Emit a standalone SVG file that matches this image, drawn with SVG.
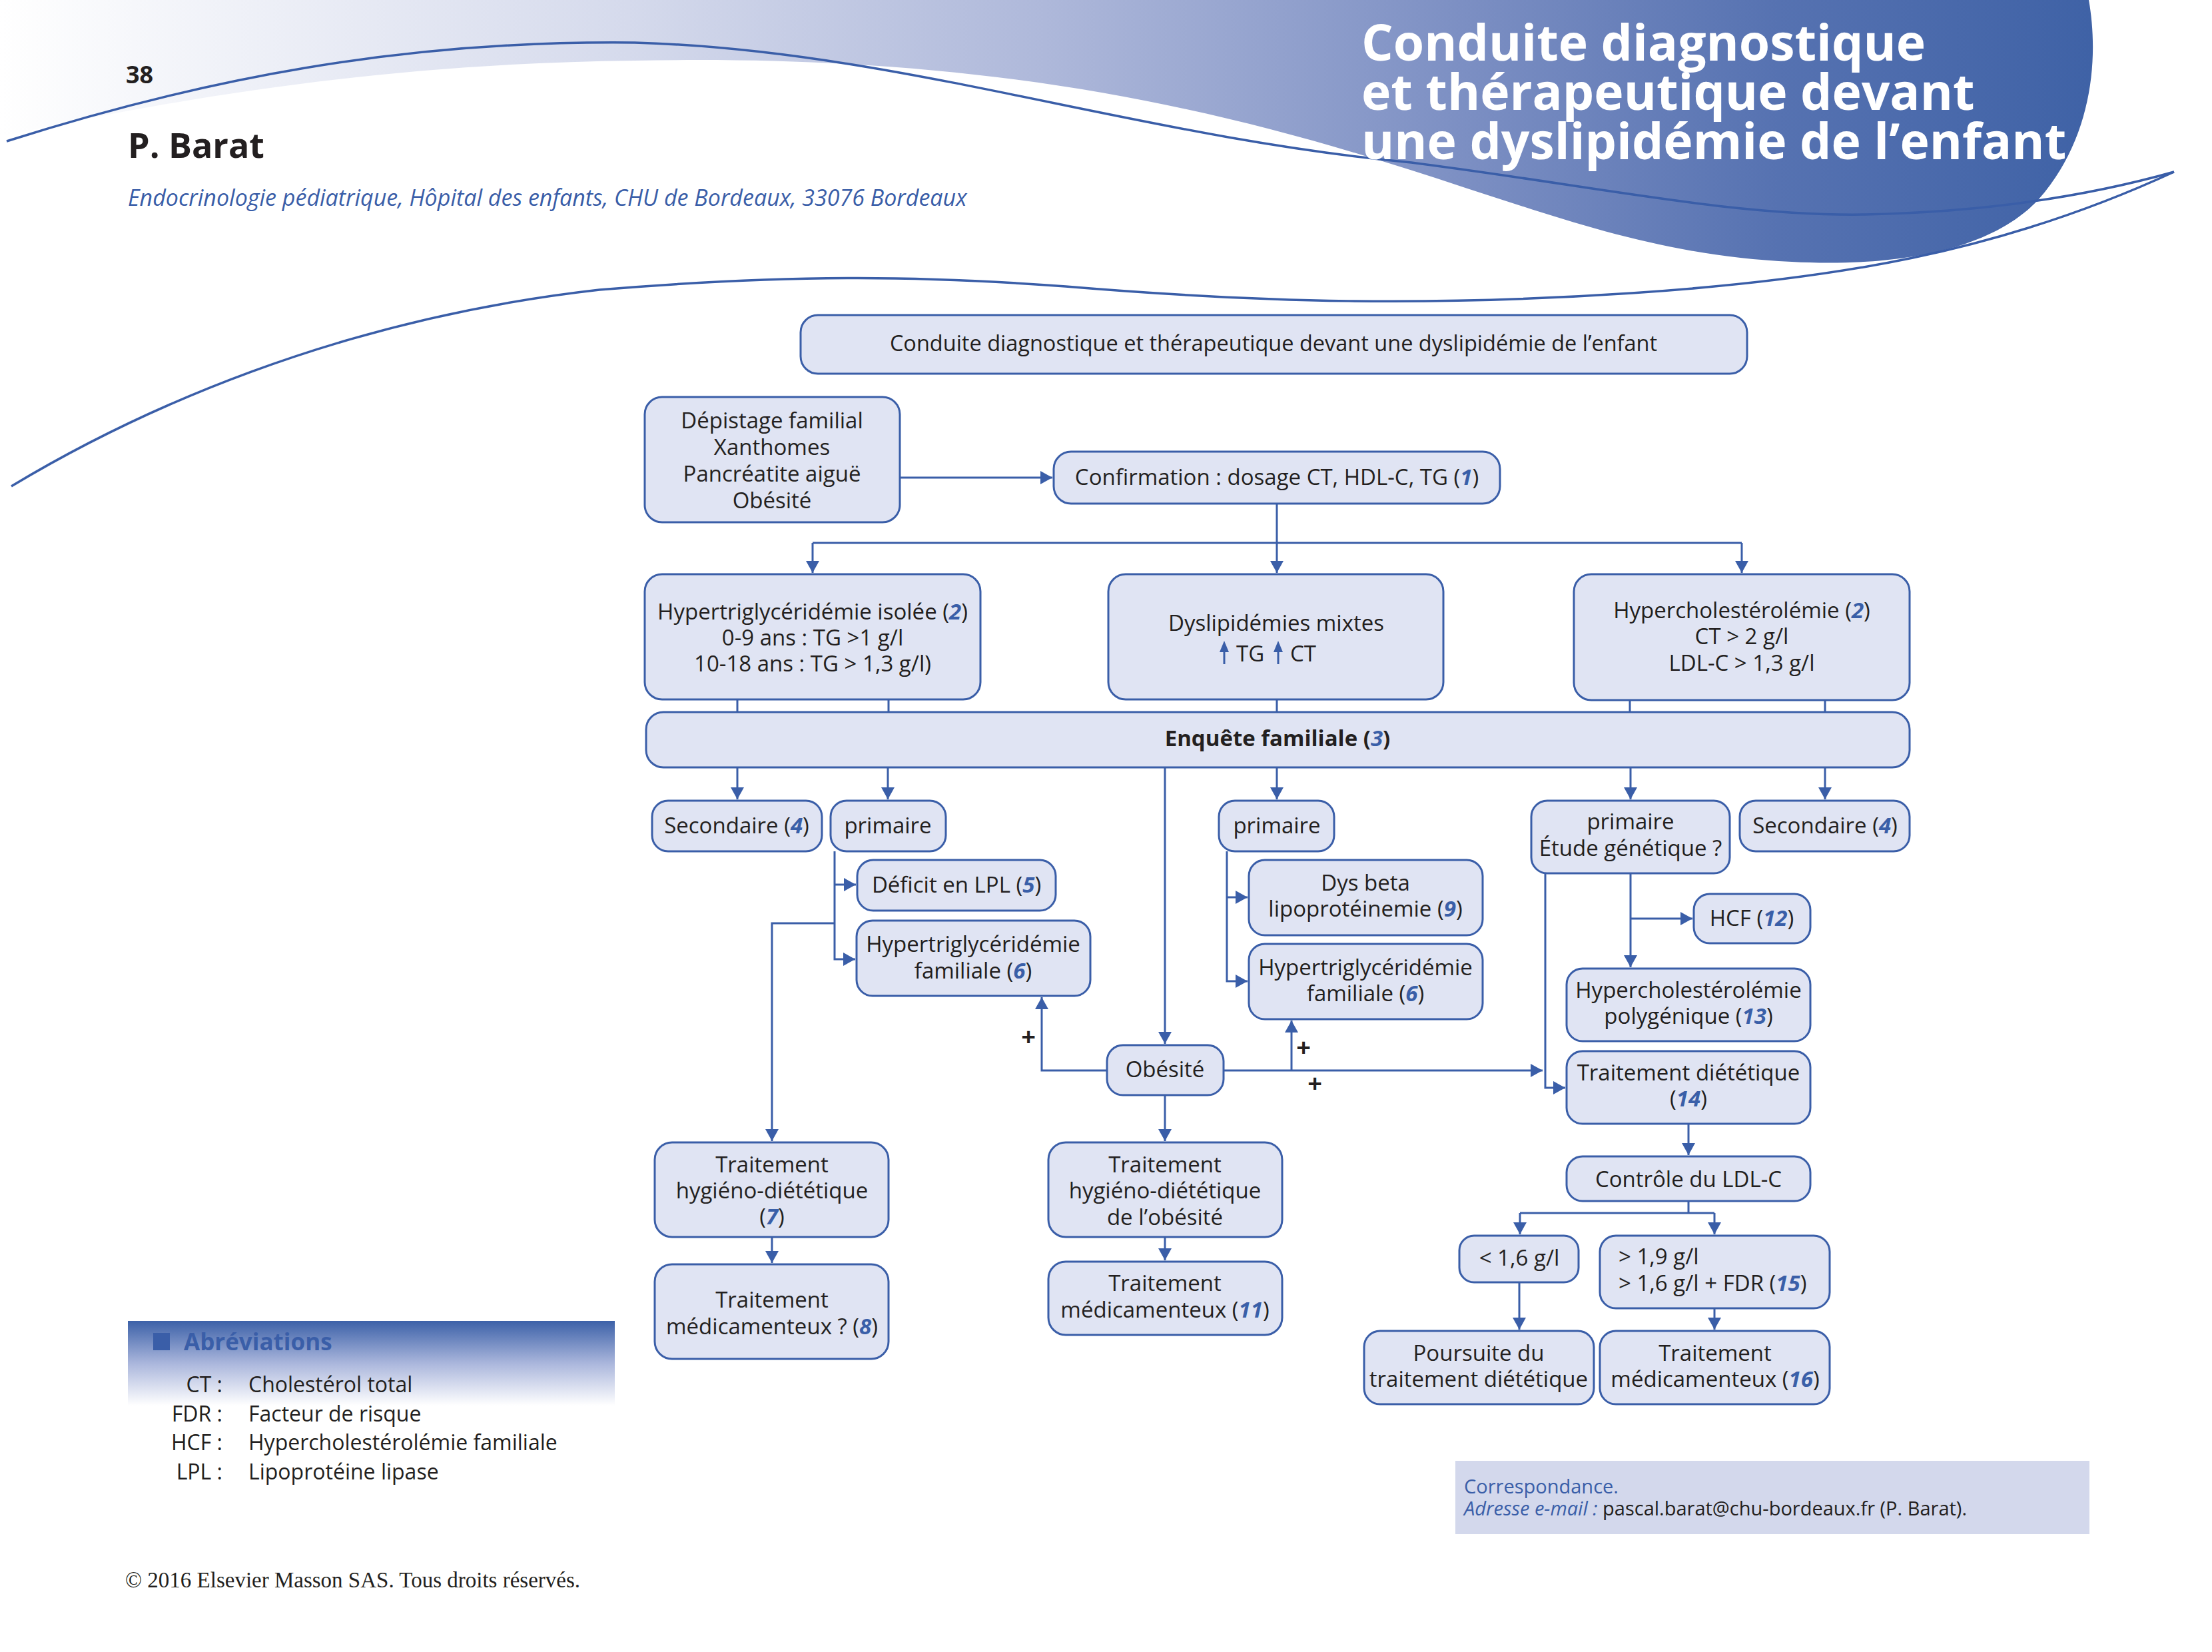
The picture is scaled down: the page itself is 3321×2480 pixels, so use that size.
<svg xmlns="http://www.w3.org/2000/svg" width="3321" height="2480" viewBox="0 0 3321 2480">
<defs>
<linearGradient id="hdr" gradientUnits="userSpaceOnUse" x1="0" y1="0" x2="3140" y2="0">
<stop offset="0" stop-color="#ffffff"/>
<stop offset="0.3" stop-color="#d5daec"/>
<stop offset="0.5" stop-color="#aeb8da"/>
<stop offset="0.7" stop-color="#7c8fc3"/>
<stop offset="0.85" stop-color="#5672b1"/>
<stop offset="1" stop-color="#3f62a6"/>
</linearGradient>
<linearGradient id="abr" x1="0" y1="0" x2="0" y2="1">
<stop offset="0" stop-color="#3c61a8"/>
<stop offset="0.5" stop-color="#aab6dc"/>
<stop offset="1" stop-color="#ffffff"/>
</linearGradient>
<marker id="ah" markerUnits="userSpaceOnUse" markerWidth="20" markerHeight="20" refX="18" refY="10" orient="auto">
<path d="M0,0 L18,10 L0,20 Z" fill="#3a5ea8"/>
</marker>
<style>
.box{fill:#e0e4f3;stroke:#3a5ea8;stroke-width:3}
.t{font-family:'Open Sans','Noto Sans','DejaVu Sans',sans-serif;font-size:33px;fill:#231f20;text-anchor:middle}
.n{fill:#3a5fa8;font-weight:bold;font-style:italic}
.ln{fill:none;stroke:#3a5ea8;stroke-width:3}
.ar{fill:none;stroke:#3a5ea8;stroke-width:3;marker-end:url(#ah)}
.plus{font-family:'Open Sans','DejaVu Sans',sans-serif;font-size:38px;font-weight:bold;fill:#231f20;text-anchor:middle}
.sw{fill:none;stroke:#3a5ea8;stroke-width:3.5}
.ttl{font-family:'Open Sans','DejaVu Sans',sans-serif;font-weight:bold;font-size:75px;fill:#ffffff}
</style>
</defs>

<g id="header">
<path d="M0,0 H3136 C3152,90 3140,210 3060,300 C2980,385 2820,400 2690,393 C2500,385 2350,330 2200,282 C1850,165 1500,80 953,91 C600,95 300,140 0,205 Z" fill="url(#hdr)"/>
<path class="sw" d="M10,212 C300,120 600,60 953,64 C1350,75 1700,205 2119,244 C2400,280 2600,325 2800,322 C3000,318 3150,290 3264,258"/>
<path class="sw" d="M17,730 C200,620 500,480 900,435 C1200,410 1400,415 1600,430 C1900,455 2150,460 2450,440 C2750,420 3000,380 3264,258"/>
<text class="ttl" x="2044" y="91">Conduite diagnostique</text>
<text class="ttl" x="2044" y="165">et thérapeutique devant</text>
<text class="ttl" x="2044" y="239">une dyslipidémie de l’enfant</text>
<text x="189" y="125" font-family="'Open Sans','DejaVu Sans',sans-serif" font-weight="bold" font-size="36" fill="#231f20">38</text>
<text x="192" y="237" font-family="'Open Sans','DejaVu Sans',sans-serif" font-weight="bold" font-size="52" fill="#231f20">P. Barat</text>
<text x="192" y="309" font-family="'Open Sans','DejaVu Sans',sans-serif" font-style="italic" font-size="34" fill="#3a5ea8">Endocrinologie pédiatrique, Hôpital des enfants, CHU de Bordeaux, 33076 Bordeaux</text>
</g>

<g id="connectors">
<path class="ar" d="M1351,717 H1580"/>
<path class="ar" d="M1917,756 V860"/>
<path class="ln" d="M1220,815 H2615"/>
<path class="ar" d="M1220,815 V860"/>
<path class="ar" d="M2615,815 V860"/>
<path class="ln" d="M1107,1050 V1069 M1334,1050 V1069 M1917,1050 V1069 M2447,1051 V1069 M2740,1051 V1069"/>
<path class="ar" d="M1107,1152 V1200"/>
<path class="ar" d="M1333,1152 V1200"/>
<path class="ar" d="M1917,1152 V1200"/>
<path class="ar" d="M2448,1152 V1200"/>
<path class="ar" d="M2740,1152 V1200"/>
<path class="ar" d="M1749,1152 V1567"/>
<path class="ar" d="M1253,1278 V1440 H1284"/>
<path class="ar" d="M1253,1328 H1285"/>
<path class="ar" d="M1253,1386 H1159 V1713"/>
<path class="ar" d="M1842,1278 V1473 H1873"/>
<path class="ar" d="M1842,1347 H1873"/>
<path class="ar" d="M1662,1607 H1564 V1497"/>
<path class="ar" d="M1837,1607 H2316"/>
<path class="ar" d="M1939,1607 V1532"/>
<path class="ar" d="M1749,1644 V1713"/>
<path class="ar" d="M1159,1857 V1896"/>
<path class="ar" d="M1749,1857 V1892"/>
<path class="ar" d="M2448,1311 V1452"/>
<path class="ar" d="M2448,1379 H2541"/>
<path class="ar" d="M2320,1311 V1633 H2350"/>
<path class="ar" d="M2535,1687 V1734"/>
<path class="ln" d="M2535,1803 V1821 M2282,1821 H2574"/>
<path class="ar" d="M2282,1821 V1853"/>
<path class="ar" d="M2574,1821 V1853"/>
<path class="ar" d="M2281,1925 V1996"/>
<path class="ar" d="M2574,1964 V1996"/>
<text class="plus" x="1544" y="1570">+</text>
<text class="plus" x="1957" y="1586">+</text>
<text class="plus" x="1974" y="1640">+</text>
</g>

<g id="n-titre">
<rect class="box" x="1202" y="473" width="1421" height="88" rx="26"/>
<text class="t" x="1912" y="527" style="font-size:32.5px">Conduite diagnostique et thérapeutique devant une dyslipidémie de l’enfant</text>
</g>
<g id="n-depistage">
<rect class="box" x="968" y="596" width="383" height="188" rx="26"/>
<text class="t" x="1159" y="643">Dépistage familial</text>
<text class="t" x="1159" y="683">Xanthomes</text>
<text class="t" x="1159" y="723">Pancréatite aiguë</text>
<text class="t" x="1159" y="763">Obésité</text>
</g>
<g id="n-confirmation">
<rect class="box" x="1582" y="678" width="670" height="78" rx="26"/>
<text class="t" x="1917" y="728">Confirmation : dosage CT, HDL-C, TG (<tspan class="n">1</tspan>)</text>
</g>
<g id="n-htg-isolee">
<rect class="box" x="968" y="862" width="504" height="188" rx="26"/>
<text class="t" x="1220" y="930">Hypertriglycéridémie isolée (<tspan class="n">2</tspan>)</text>
<text class="t" x="1220" y="969">0-9 ans : TG &gt;1 g/l</text>
<text class="t" x="1220" y="1008">10-18 ans : TG &gt; 1,3 g/l)</text>
</g>
<g id="n-dyslip-mixtes">
<rect class="box" x="1664" y="862" width="503" height="188" rx="26"/>
<text class="t" x="1916" y="947">Dyslipidémies mixtes</text>
<path d="M1838,997 V976" stroke="#3a5ea8" stroke-width="3"/>
<path d="M1831,979 L1838,962 L1845,979 Z" fill="#3a5ea8"/>
<text class="t" x="1856" y="993" style="text-anchor:start">TG</text>
<path d="M1919,997 V976" stroke="#3a5ea8" stroke-width="3"/>
<path d="M1912,979 L1919,962 L1926,979 Z" fill="#3a5ea8"/>
<text class="t" x="1937" y="993" style="text-anchor:start">CT</text>
</g>
<g id="n-hyperchol">
<rect class="box" x="2363" y="862" width="504" height="189" rx="26"/>
<text class="t" x="2615" y="928">Hypercholestérolémie (<tspan class="n">2</tspan>)</text>
<text class="t" x="2615" y="967">CT &gt; 2 g/l</text>
<text class="t" x="2615" y="1007">LDL-C &gt; 1,3 g/l</text>
</g>
<g id="n-enquete">
<rect class="box" x="970" y="1069" width="1897" height="83" rx="26"/>
<text class="t" x="1918" y="1120" font-weight="bold">Enquête familiale (<tspan class="n">3</tspan>)</text>
</g>
<g id="n-secondaire-g">
<rect class="box" x="979" y="1202" width="255" height="76" rx="24"/>
<text class="t" x="1106" y="1251">Secondaire (<tspan class="n">4</tspan>)</text>
</g>
<g id="n-primaire-g">
<rect class="box" x="1247" y="1202" width="173" height="76" rx="24"/>
<text class="t" x="1333" y="1251">primaire</text>
</g>
<g id="n-primaire-m">
<rect class="box" x="1830" y="1202" width="173" height="76" rx="24"/>
<text class="t" x="1917" y="1251">primaire</text>
</g>
<g id="n-primaire-d">
<rect class="box" x="2299" y="1202" width="298" height="109" rx="24"/>
<text class="t" x="2448" y="1245">primaire</text>
<text class="t" x="2448" y="1285">Étude génétique ?</text>
</g>
<g id="n-secondaire-d">
<rect class="box" x="2612" y="1202" width="255" height="76" rx="24"/>
<text class="t" x="2740" y="1251">Secondaire (<tspan class="n">4</tspan>)</text>
</g>
<g id="n-deficit-lpl">
<rect class="box" x="1287" y="1291" width="298" height="76" rx="24"/>
<text class="t" x="1436" y="1340">Déficit en LPL (<tspan class="n">5</tspan>)</text>
</g>
<g id="n-htg-fam-g">
<rect class="box" x="1286" y="1382" width="351" height="113" rx="24"/>
<text class="t" x="1461" y="1429">Hypertriglycéridémie</text>
<text class="t" x="1461" y="1469">familiale (<tspan class="n">6</tspan>)</text>
</g>
<g id="n-dysbeta">
<rect class="box" x="1875" y="1291" width="351" height="113" rx="24"/>
<text class="t" x="2050" y="1337">Dys beta</text>
<text class="t" x="2050" y="1376">lipoprotéinemie (<tspan class="n">9</tspan>)</text>
</g>
<g id="n-htg-fam-m">
<rect class="box" x="1875" y="1417" width="351" height="113" rx="24"/>
<text class="t" x="2050" y="1464">Hypertriglycéridémie</text>
<text class="t" x="2050" y="1503">familiale (<tspan class="n">6</tspan>)</text>
</g>
<g id="n-obesite">
<rect class="box" x="1662" y="1569" width="175" height="75" rx="24"/>
<text class="t" x="1749" y="1617">Obésité</text>
</g>
<g id="n-hcf">
<rect class="box" x="2543" y="1342" width="175" height="74" rx="24"/>
<text class="t" x="2630" y="1390">HCF (<tspan class="n">12</tspan>)</text>
</g>
<g id="n-hc-polygenique">
<rect class="box" x="2352" y="1454" width="366" height="109" rx="24"/>
<text class="t" x="2535" y="1498">Hypercholestérolémie</text>
<text class="t" x="2535" y="1537">polygénique (<tspan class="n">13</tspan>)</text>
</g>
<g id="n-trait-diet">
<rect class="box" x="2352" y="1578" width="366" height="109" rx="24"/>
<text class="t" x="2535" y="1622">Traitement diététique</text>
<text class="t" x="2535" y="1661">(<tspan class="n">14</tspan>)</text>
</g>
<g id="n-controle">
<rect class="box" x="2352" y="1736" width="366" height="67" rx="24"/>
<text class="t" x="2535" y="1782">Contrôle du LDL-C</text>
</g>
<g id="n-inf16">
<rect class="box" x="2191" y="1855" width="179" height="70" rx="22"/>
<text class="t" x="2281" y="1900">&lt; 1,6 g/l</text>
</g>
<g id="n-sup19">
<rect class="box" x="2402" y="1855" width="345" height="109" rx="24"/>
<text class="t" x="2430" y="1898" style="text-anchor:start">&gt; 1,9 g/l</text>
<text class="t" x="2430" y="1938" style="text-anchor:start">&gt; 1,6 g/l + FDR (<tspan class="n">15</tspan>)</text>
</g>
<g id="n-poursuite">
<rect class="box" x="2048" y="1998" width="345" height="110" rx="24"/>
<text class="t" x="2220" y="2043">Poursuite du</text>
<text class="t" x="2220" y="2082">traitement diététique</text>
</g>
<g id="n-trait-med16">
<rect class="box" x="2402" y="1998" width="345" height="110" rx="24"/>
<text class="t" x="2575" y="2043">Traitement</text>
<text class="t" x="2575" y="2082">médicamenteux (<tspan class="n">16</tspan>)</text>
</g>
<g id="n-trait-hd7">
<rect class="box" x="983" y="1715" width="351" height="142" rx="26"/>
<text class="t" x="1159" y="1760">Traitement</text>
<text class="t" x="1159" y="1799">hygiéno-diététique</text>
<text class="t" x="1159" y="1838">(<tspan class="n">7</tspan>)</text>
</g>
<g id="n-trait-med8">
<rect class="box" x="983" y="1898" width="351" height="142" rx="26"/>
<text class="t" x="1159" y="1963">Traitement</text>
<text class="t" x="1159" y="2003">médicamenteux ? (<tspan class="n">8</tspan>)</text>
</g>
<g id="n-trait-obesite">
<rect class="box" x="1574" y="1715" width="351" height="142" rx="26"/>
<text class="t" x="1749" y="1760">Traitement</text>
<text class="t" x="1749" y="1799">hygiéno-diététique</text>
<text class="t" x="1749" y="1839">de l’obésité</text>
</g>
<g id="n-trait-med11">
<rect class="box" x="1574" y="1894" width="351" height="110" rx="26"/>
<text class="t" x="1749" y="1938">Traitement</text>
<text class="t" x="1749" y="1978">médicamenteux (<tspan class="n">11</tspan>)</text>
</g>

<g id="abreviations">
<rect x="192" y="1983" width="731" height="127" fill="url(#abr)"/>
<rect x="230" y="2001" width="25" height="26" fill="#3a5ea8"/>
<text x="276" y="2027" font-family="'Open Sans','DejaVu Sans',sans-serif" font-weight="bold" font-size="35" fill="#3a5ea8">Abréviations</text>
<g font-family="'Open Sans','DejaVu Sans',sans-serif" font-size="32" fill="#231f20">
<text x="334" y="2090" text-anchor="end">CT :</text>
<text x="373" y="2090">Cholestérol total</text>
<text x="334" y="2134" text-anchor="end">FDR :</text>
<text x="373" y="2134">Facteur de risque</text>
<text x="334" y="2177" text-anchor="end">HCF :</text>
<text x="373" y="2177">Hypercholestérolémie familiale</text>
<text x="334" y="2221" text-anchor="end">LPL :</text>
<text x="373" y="2221">Lipoprotéine lipase</text>
</g>
</g>

<g id="correspondance">
<rect x="2185" y="2193" width="952" height="110" fill="#d3d8ec"/>
<text x="2198" y="2242" font-family="'Open Sans','DejaVu Sans',sans-serif" font-size="29" fill="#3a5ea8">Correspondance.</text>
<text x="2198" y="2275" font-family="'Open Sans','DejaVu Sans',sans-serif" font-size="29" fill="#231f20"><tspan fill="#3a5ea8" font-style="italic">Adresse e-mail :</tspan> pascal.barat@chu-bordeaux.fr (P. Barat).</text>
</g>

<text x="188" y="2383" font-family="'Liberation Serif','Times New Roman',serif" font-size="33" fill="#231f20">© 2016 Elsevier Masson SAS. Tous droits réservés.</text>
</svg>
